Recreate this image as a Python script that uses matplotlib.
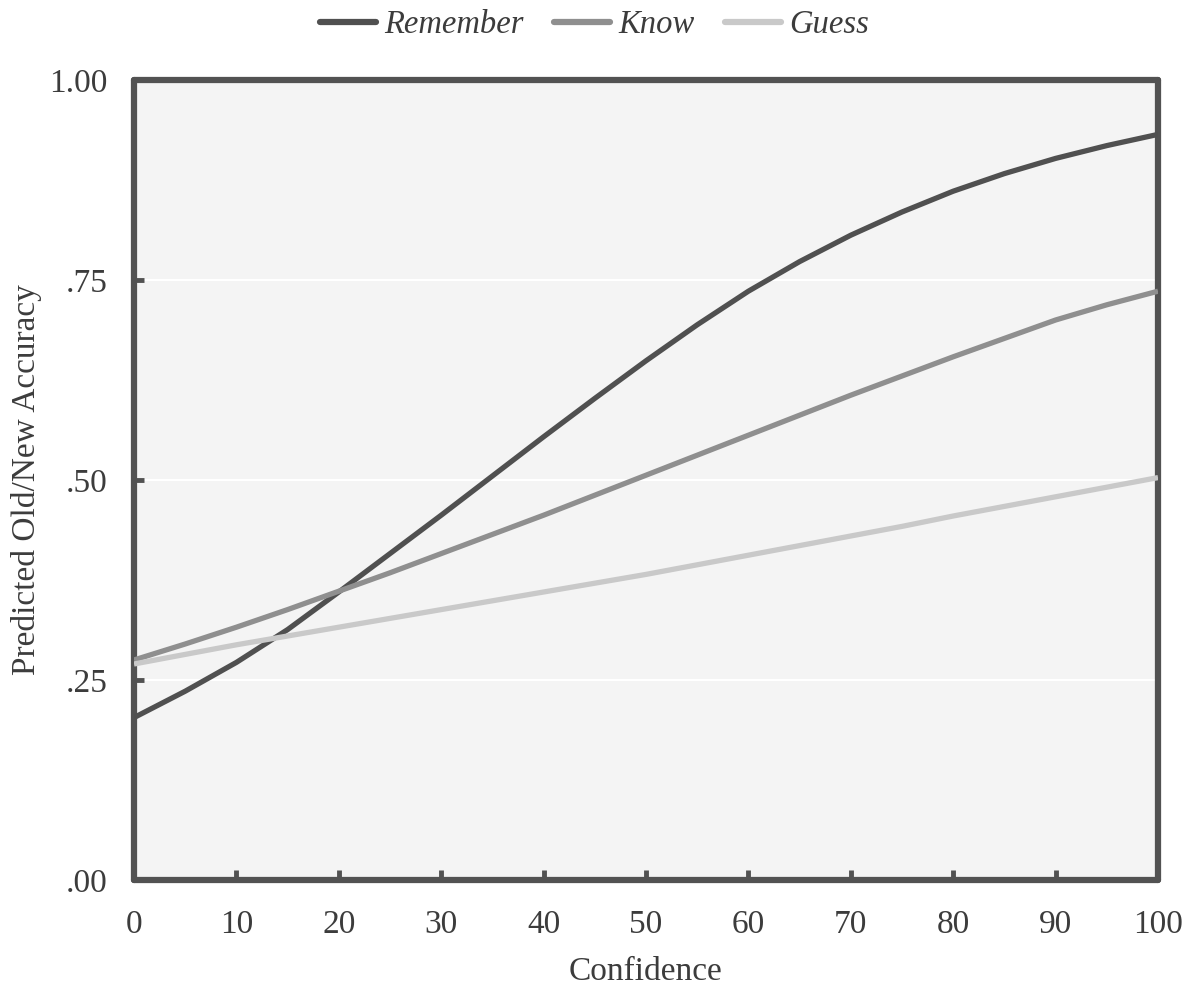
import numpy as np
import matplotlib
matplotlib.use("Agg")
import matplotlib.pyplot as plt

plt.rcParams['font.family'] = ['Liberation Serif', 'DejaVu Serif']

confidence = [0, 5, 10, 15, 20, 25, 30, 35, 40, 45, 50,
              55, 60, 65, 70, 75, 80, 85, 90, 95, 100]
remember = [0.203, 0.236, 0.272, 0.313, 0.360, 0.408, 0.456, 0.505, 0.554, 0.602, 0.649,
            0.694, 0.736, 0.773, 0.806, 0.835, 0.861, 0.883, 0.902, 0.918, 0.932]
know = [0.275, 0.295, 0.316, 0.338, 0.361, 0.384, 0.408, 0.432, 0.456, 0.481, 0.506,
        0.531, 0.556, 0.581, 0.606, 0.630, 0.654, 0.677, 0.700, 0.719, 0.736]
guess = [0.270, 0.282, 0.294, 0.305, 0.316, 0.327, 0.338, 0.349, 0.360, 0.371, 0.382,
         0.394, 0.406, 0.418, 0.430, 0.442, 0.455, 0.467, 0.479, 0.491, 0.503]

series = [("Remember", remember, "#505050"),
          ("Know", know, "#8f8f8f"),
          ("Guess", guess, "#c9c9c9")]

xticks = [0, 10, 20, 30, 40, 50, 60, 70, 80, 90, 100]
yticks = [0, 0.25, 0.5, 0.75, 1.0]
ylabels = [".00", ".25", ".50", ".75", "1.00"]

fs = 24
txt = "#3c3c3c"

fig = plt.figure(figsize=(11.89, 9.86), dpi=100)
ax = fig.add_axes([134 / 1189, 1 - 880 / 986, 1024 / 1189, 800 / 986])
ax.set_facecolor("#f4f4f4")

for y in [0.25, 0.5, 0.75]:
    ax.axhline(y, color="white", lw=1.5, zorder=1)

for name, vals, col in series:
    ax.plot(confidence, vals, color=col, lw=3.8, label=name,
            solid_capstyle="butt", zorder=3)

ax.set_xlim(0, 100)
ax.set_ylim(0, 1)
ax.set_xticks(xticks)
ax.set_yticks(yticks)
ax.set_yticklabels(ylabels)
for s in ax.spines.values():
    s.set_linewidth(4.5)
    s.set_color("#525252")
    s.set_capstyle("round")
ax.tick_params(direction="in", length=7, width=3.5, color="#525252",
               labelsize=fs, labelcolor=txt)
ax.tick_params(axis="x", pad=21)
ax.tick_params(axis="y", pad=19)

ax.set_xlabel("Confidence", fontsize=fs, color=txt, labelpad=12)
ax.set_ylabel("Predicted Old/New Accuracy", fontsize=fs, color=txt, labelpad=5)

leg = fig.legend(loc="center", bbox_to_anchor=(0.5, 1 - 25 / 986), ncol=3,
                 frameon=False, handlelength=1.7, handletextpad=0.25,
                 columnspacing=0.95, borderpad=0,
                 prop={"size": fs - 0.5, "style": "italic"})
for t in leg.get_texts():
    t.set_color(txt)
for h in leg.get_lines():
    h.set_linewidth(4.5)
    h.set_solid_capstyle("round")

fig.savefig("out.png", dpi=100)
